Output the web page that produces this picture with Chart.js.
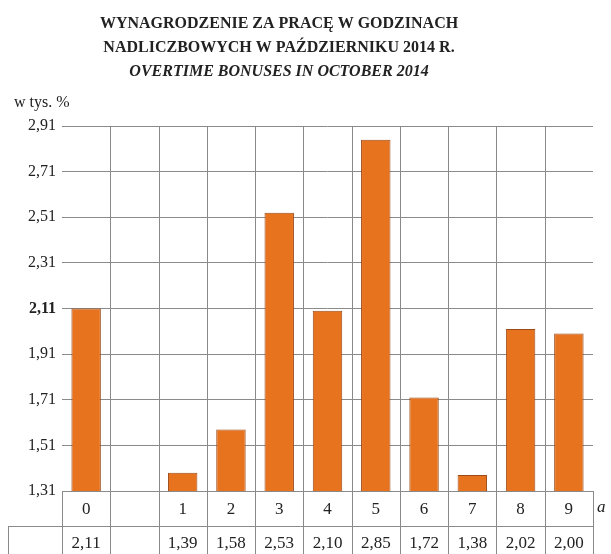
<!DOCTYPE html>
<html>
<head>
<meta charset="utf-8">
<script src="https://cdn.jsdelivr.net/npm/chart.js@4.4.1/dist/chart.umd.min.js"></script>
<style>
  html, body { margin: 0; padding: 0; background: #ffffff; }
  #wrap { width: 611px; height: 554px; position: relative; }
</style>
</head>
<body>
<div id="wrap"><canvas id="c" width="611" height="554"></canvas></div>
<script>
const titleLines = ["WYNAGRODZENIE ZA PRACĘ W GODZINACH", "NADLICZBOWYCH W PAŹDZIERNIKU 2014 R."];
const subtitleLine = "OVERTIME BONUSES IN OCTOBER 2014";
const yAxisLabel = "w tys. %";
const xAxisLabel = "a";
const categories = ["0", "", "1", "2", "3", "4", "5", "6", "7", "8", "9"];
const values = [2.11, null, 1.39, 1.58, 2.53, 2.10, 2.85, 1.72, 1.38, 2.02, 2.00];
const yMin = 1.31, yMax = 2.91, yStep = 0.2;
const highlightTick = 2.11;

const SERIF = '"Liberation Serif", "Times New Roman", serif';
const fmt = v => v.toFixed(2).replace('.', ',');

function columnBounds(chart) {
  const x = chart.scales.x;
  const n = categories.length;
  const half = (x.getPixelForValue(1) - x.getPixelForValue(0)) / 2;
  const bounds = [];
  for (let i = 0; i < n; i++) bounds.push(x.getPixelForValue(i) - half);
  bounds.push(x.getPixelForValue(n - 1) + half);
  return bounds;
}

const tablePlugin = {
  id: 'tablePlugin',
  beforeDatasetsDraw(chart) {
    const ctx = chart.ctx;
    const area = chart.chartArea;
    const bounds = columnBounds(chart);
    ctx.save();
    ctx.strokeStyle = '#8a8a8a';
    ctx.lineWidth = 1;
    ctx.beginPath();
    for (let i = 1; i < bounds.length - 1; i++) {
      const bx = Math.round(bounds[i]) + 0.5;
      ctx.moveTo(bx, area.top); ctx.lineTo(bx, area.bottom);
    }
    ctx.stroke();
    ctx.restore();
  },
  afterDraw(chart) {
    const ctx = chart.ctx;
    const x = chart.scales.x;
    const area = chart.chartArea;
    const n = categories.length;
    const bounds = columnBounds(chart);
    const r1Top = area.bottom, r1Bot = area.bottom + 35, r2Bot = area.bottom + 72;
    const leftCell = 8;
    ctx.save();
    ctx.strokeStyle = '#8a8a8a';
    ctx.lineWidth = 1;
    ctx.beginPath();
    ctx.moveTo(bounds[0], r1Top + 0.5); ctx.lineTo(bounds[n], r1Top + 0.5);
    ctx.moveTo(leftCell, r1Bot + 0.5); ctx.lineTo(bounds[n], r1Bot + 0.5);
    ctx.moveTo(leftCell + 0.5, r1Bot); ctx.lineTo(leftCell + 0.5, r2Bot);
    bounds.forEach(b => {
      const bx = Math.round(b) + 0.5;
      ctx.moveTo(bx, r1Top); ctx.lineTo(bx, r2Bot);
    });
    ctx.stroke();
    ctx.fillStyle = '#222';
    ctx.textAlign = 'center';
    ctx.textBaseline = 'middle';
    ctx.font = '17px ' + SERIF;
    for (let i = 0; i < n; i++) {
      const cx = x.getPixelForValue(i);
      ctx.fillText(categories[i], cx, (r1Top + r1Bot) / 2 + 1);
      if (values[i] !== null) ctx.fillText(fmt(values[i]), cx, r1Bot + 18);
    }
    ctx.font = 'italic 17px ' + SERIF;
    ctx.textAlign = 'left';
    ctx.fillText(xAxisLabel, bounds[n] + 4, (r1Top + r1Bot) / 2 - 1);
    ctx.textAlign = 'center';
    ctx.font = 'bold 16px ' + SERIF;
    ctx.fillText(titleLines[0], 279, 24);
    ctx.fillText(titleLines[1], 279, 48);
    ctx.font = 'italic bold 16px ' + SERIF;
    ctx.fillText(subtitleLine, 279, 72);
    ctx.font = '16px ' + SERIF;
    ctx.textAlign = 'left';
    ctx.fillText(yAxisLabel, 14, 103);
    ctx.restore();
  }
};

new Chart(document.getElementById('c'), {
  type: 'bar',
  data: {
    labels: categories,
    datasets: [{
      data: values,
      backgroundColor: '#E8731F',
      borderColor: '#9c4a18',
      borderWidth: 1,
      barPercentage: 0.61,
      categoryPercentage: 1.0
    }]
  },
  options: {
    responsive: false,
    animation: false,
    events: [],
    layout: { padding: { top: 126, right: 18, left: 0, bottom: 0 } },
    plugins: { legend: { display: false }, tooltip: { enabled: false }, title: { display: false } },
    scales: {
      x: {
        offset: true,
        grid: { display: false },
        border: { display: false },
        ticks: { display: false },
        afterFit: s => { s.height = 63; }
      },
      y: {
        min: yMin,
        max: yMax,
        grid: { drawTicks: false, color: '#8a8a8a', lineWidth: 1 },
        border: { display: false },
        ticks: {
          stepSize: yStep,
          padding: 6,
          color: '#222',
          font: ctx => ({
            family: SERIF,
            size: 16,
            weight: (ctx.tick && Math.abs(ctx.tick.value - highlightTick) < 1e-6) ? 'bold' : 'normal'
          }),
          callback: v => fmt(v)
        },
        afterFit: s => { s.width = 62; }
      }
    }
  },
  plugins: [tablePlugin]
});
</script>
</body>
</html>
